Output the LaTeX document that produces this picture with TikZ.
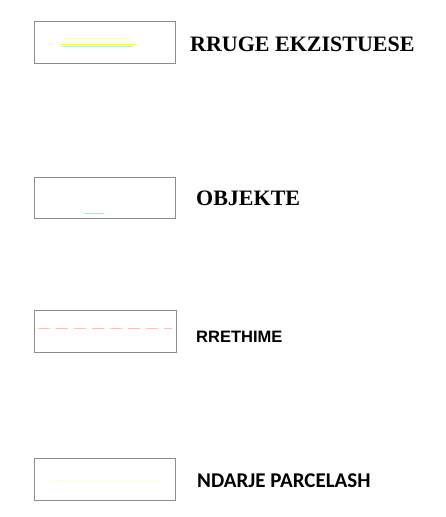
\documentclass[tikz,border=0pt]{standalone}
\usepackage{fontspec}
\setmainfont{Liberation Serif}
\newfontfamily\carlito{Carlito}
\newfontfamily\sansheavy{Liberation Sans}
\begin{document}
\begin{tikzpicture}[x=1pt,y=-1pt,
  legbox/.style={draw=black!45, line width=0.8pt},
  lbl/.style={anchor=west, inner sep=0pt, text=black}]
\useasboundingbox (0,0) rectangle (446,517);
% box 1
\draw[legbox] (34,21) rectangle (175,63);
\draw[yellow!25, line width=1pt] (62,38) -- (132,38);
\draw[yellow!70, line width=1pt] (60,44) -- (135,44);
\draw[cyan!30, line width=0.8pt] (62,46) -- (132,46);
\node[lbl, font=\fontsize{22}{26}\selectfont\bfseries] (t1) at (190,44) {RRUGE EKZISTUESE};
% box 2
\draw[legbox] (34,177) rectangle (175,218);
\draw[cyan!35, line width=1pt] (84,213) -- (104,213);
\node[lbl, font=\fontsize{22}{26}\selectfont\bfseries] (t2) at (196,198) {OBJEKTE};
% box 3
\draw[legbox] (34,310) rectangle (176,352);
\draw[red!25, line width=0.8pt, dash pattern=on 12pt off 6pt] (38,328) -- (172,328);
\node[lbl, font=\sansheavy\fontsize{16.5}{19}\selectfont\bfseries] (t3) at (196,337) {RRETHIME};
% box 4
\draw[legbox] (34,458) rectangle (175,500);
\draw[yellow!12, line width=1pt] (50,480) -- (160,480);
\node[lbl, font=\carlito\fontsize{21}{25}\selectfont\bfseries] (t4) at (197,481) {NDARJE PARCELASH};
\end{tikzpicture}
\end{document}
